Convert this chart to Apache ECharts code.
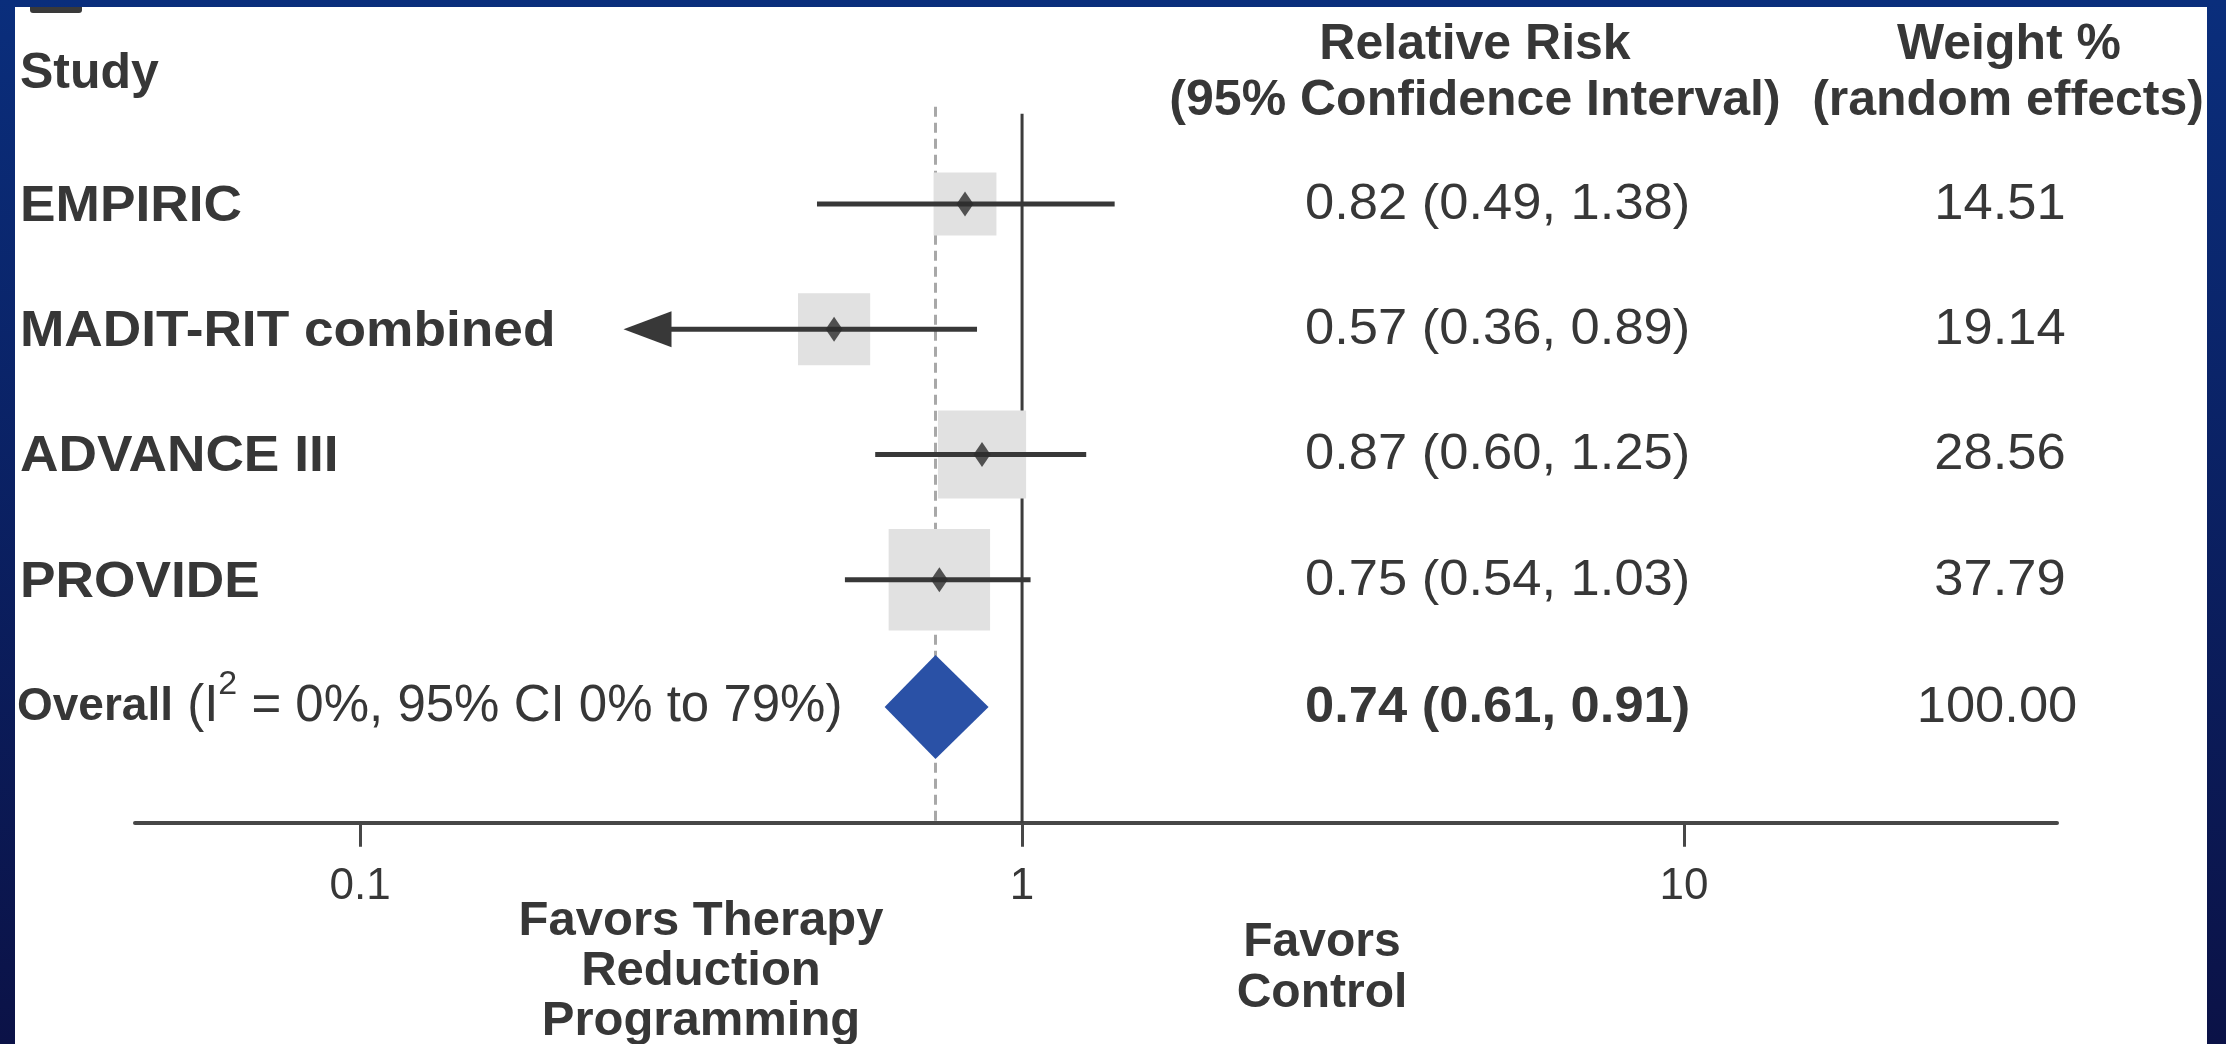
<!DOCTYPE html>
<html>
<head>
<meta charset="utf-8">
<script src="https://cdn.jsdelivr.net/npm/echarts@6/dist/echarts.min.js"></script>
<style>
html,body{margin:0;padding:0;background:#0a2d78;overflow:hidden;}
#c{width:2226px;height:1044px;}
</style>
</head>
<body>
<div id="c"></div>
<script>
// ---- data ----
const studies = ['EMPIRIC', 'MADIT-RIT combined', 'ADVANCE III', 'PROVIDE'];
const rr = [0.82, 0.57, 0.87, 0.75];          // printed relative risk
const ciLow = [0.49, 0.36, 0.60, 0.54];       // printed lower 95% CI
const ciHigh = [1.38, 0.89, 1.25, 1.03];      // printed upper 95% CI
const weights = [14.51, 19.14, 28.56, 37.79]; // weight % (random effects)
// marks as drawn in the figure (the MADIT-RIT marks are drawn at different values than printed)
const plotEst = [0.82, 0.52, 0.87, 0.75];
const plotLow = [0.49, 0.25, 0.60, 0.54];
const plotHigh = [1.38, 0.855, 1.25, 1.03];
const arrowLow = [false, true, false, false];
const overallRR = 0.74;
const overallLow = 0.61;
const overallHigh = 0.91;
const overallWeight = 100.00;
const overallPlotLow = 0.62;
const overallPlotHigh = 0.89;
const overallLabel = ['Overall', '(I', '2', ' = 0%, 95% CI 0% to 79%)'];
const xTicks = [0.1, 1, 10];

// ---- styles ----
const FF = '"Liberation Sans", Arial, Helvetica, sans-serif';
const TXT = '#373737';
const INK = '#383838';

const chart = echarts.init(document.getElementById('c'), null, {renderer: 'canvas', width: 2226, height: 1044});
const overallRow = studies.length;
const rowIdx = studies.map((s, i) => i);
const fmt = v => v.toFixed(2);

const option = {
  animation: false,
  backgroundColor: {
    type: 'linear', x: 0, y: 0, x2: 0, y2: 1,
    colorStops: [{offset: 0, color: '#0a2e7c'}, {offset: 1, color: '#0b1247'}]
  },
  grid: {left: 135, right: 169, top: 78.75, bottom: 221.3},
  xAxis: {
    type: 'log', logBase: 10, min: 0.0457, max: 36.6,
    axisLine: {show: true, onZero: false, lineStyle: {color: '#474747', width: 4}},
    axisTick: {show: true, customValues: xTicks, length: 24, lineStyle: {color: '#474747', width: 3}},
    axisLabel: {customValues: xTicks, formatter: v => String(v), fontSize: 44, color: TXT, fontFamily: FF, margin: 42},
    splitLine: {show: false},
    minorTick: {show: false}
  },
  yAxis: {type: 'value', inverse: true, min: -1, max: 4.94, show: false},
  graphic: [
    {type: 'rect', z: -100, shape: {x: 15, y: 7, width: 2192, height: 1040}, style: {fill: '#ffffff'}},
    {type: 'rect', z: 100, shape: {x: 30, y: 7, width: 52, height: 6, r: [0, 0, 3, 3]}, style: {fill: '#3a3a3a'}},
    {type: 'text', z: 100, x: 20, y: 74, style: {text: 'Study', fontSize: 50, fontWeight: 'bold', fontFamily: FF, fill: TXT, textAlign: 'left', textVerticalAlign: 'middle'}},
    {type: 'text', z: 100, x: 1475, y: 45, style: {text: 'Relative Risk', fontSize: 50, fontWeight: 'bold', fontFamily: FF, fill: TXT, textAlign: 'center', textVerticalAlign: 'middle'}},
    {type: 'text', z: 100, x: 1475, y: 101, style: {text: '(95% Confidence Interval)', fontSize: 50, fontWeight: 'bold', fontFamily: FF, fill: TXT, textAlign: 'center', textVerticalAlign: 'middle'}},
    {type: 'text', z: 100, x: 2009, y: 45, style: {text: 'Weight %', fontSize: 50, fontWeight: 'bold', fontFamily: FF, fill: TXT, textAlign: 'center', textVerticalAlign: 'middle'}},
    {type: 'text', z: 100, x: 2008, y: 101, style: {text: '(random effects)', fontSize: 50, fontWeight: 'bold', fontFamily: FF, fill: TXT, textAlign: 'center', textVerticalAlign: 'middle'}},
    {type: 'text', z: 100, x: 701, y: 971, style: {text: 'Favors Therapy\nReduction\nProgramming', fontSize: 49, fontWeight: 'bold', fontFamily: FF, fill: TXT, textAlign: 'center', textVerticalAlign: 'middle', lineHeight: 50}},
    {type: 'text', z: 100, x: 1322, y: 968, style: {text: 'Favors\nControl', fontSize: 48, fontWeight: 'bold', fontFamily: FF, fill: TXT, textAlign: 'center', textVerticalAlign: 'middle', lineHeight: 51}}
  ],
  series: [
    // reference lines: null effect (1) and overall estimate (dashed)
    {
      type: 'custom', z: 1, silent: true,
      data: [[1, 0], [overallRR, 1]],
      renderItem: function (params, api) {
        const x = api.value(0);
        const bottom = api.coord([x, 4.94]);
        const top = api.coord([x, -1]);
        const dashed = api.value(1) === 1;
        return {
          type: 'line',
          shape: {x1: bottom[0], y1: top[1] + (dashed ? 28 : 35), x2: bottom[0], y2: bottom[1]},
          style: dashed ? {stroke: '#a8a8a8', lineWidth: 3, lineDash: [10, 6]} : {stroke: '#3c3c3c', lineWidth: 3}
        };
      }
    },
    // weight squares
    {
      type: 'scatter', z: 2, silent: true,
      data: rowIdx.map(i => [plotEst[i], i, weights[i]]),
      symbol: 'rect',
      symbolSize: v => 16.5 * Math.sqrt(v[2]),
      itemStyle: {color: '#e1e1e1', opacity: 1}
    },
    // confidence interval lines
    {
      type: 'custom', z: 3, silent: true,
      data: rowIdx.map(i => [plotLow[i], i, plotHigh[i], arrowLow[i] ? 1 : 0]),
      renderItem: function (params, api) {
        const row = api.value(1);
        const p1 = api.coord([api.value(0), row]);
        const p2 = api.coord([api.value(2), row]);
        const arrow = api.value(3) === 1;
        const children = [];
        const startX = arrow ? p1[0] + 44 : p1[0];
        children.push({type: 'line', shape: {x1: startX, y1: p1[1], x2: p2[0], y2: p2[1]}, style: {stroke: INK, lineWidth: 5}});
        if (arrow) {
          children.push({type: 'polygon', shape: {points: [[p1[0], p1[1]], [p1[0] + 48, p1[1] - 18], [p1[0] + 48, p1[1] + 18]]}, style: {fill: INK}});
        }
        return {type: 'group', children: children};
      }
    },
    // point estimates
    {
      type: 'scatter', z: 4, silent: true,
      data: rowIdx.map(i => [plotEst[i], i]),
      symbol: 'diamond', symbolSize: [17, 25],
      itemStyle: {color: '#2c2c2c'}
    },
    // overall diamond
    {
      type: 'custom', z: 3, silent: true,
      data: [[overallPlotLow, overallRow, overallPlotHigh, overallRR]],
      renderItem: function (params, api) {
        const row = api.value(1);
        const l = api.coord([api.value(0), row]);
        const r = api.coord([api.value(2), row]);
        const m = api.coord([api.value(3), row]);
        const h = 52;
        return {type: 'polygon', shape: {points: [[l[0], m[1] + 2], [m[0], m[1] + 2 - h], [r[0], m[1] + 2], [m[0], m[1] + 2 + h]]}, style: {fill: '#2a51a6'}};
      }
    },
    // table text
    {
      type: 'custom', z: 10, silent: true,
      data: rowIdx.map(i => [1, i]).concat([[1, overallRow]]),
      renderItem: function (params, api) {
        const row = api.value(1);
        const y = api.coord([1, row])[1];
        const isOverall = row === overallRow;
        const children = [];
        if (isOverall) {
          children.push({type: 'text', x: 17, y: y + 2, style: {
            x: 0, y: 0,
            text: '{b|' + overallLabel[0] + '}{r| ' + overallLabel[1] + '}{s|' + overallLabel[2] + '}{r|' + overallLabel[3] + '}',
            textAlign: 'left', textVerticalAlign: 'middle',
            rich: {
              b: {fontSize: 46, fontWeight: 'bold', fontFamily: FF, fill: TXT},
              r: {fontSize: 51, fontWeight: 'normal', fontFamily: FF, fill: TXT},
              s: {fontSize: 34, fontWeight: 'normal', fontFamily: FF, fill: TXT, padding: [0, 0, 44, 0]}
            }
          }});
          children.push({type: 'text', x: 1305, y: y + 3, scaleX: 1.05, style: {x: 0, y: 0, text: fmt(overallRR) + ' (' + fmt(overallLow) + ', ' + fmt(overallHigh) + ')', fontSize: 50, fontWeight: 'bold', fontFamily: FF, fill: TXT, textAlign: 'left', textVerticalAlign: 'middle'}});
          children.push({type: 'text', x: 1997, y: y + 3, scaleX: 1.05, style: {x: 0, y: 0, text: fmt(overallWeight), fontSize: 50, fontFamily: FF, fill: TXT, textAlign: 'center', textVerticalAlign: 'middle'}});
        } else {
          children.push({type: 'text', x: 20, y: y + 3, scaleX: 1.065, style: {x: 0, y: 0, text: studies[row], fontSize: 50, fontWeight: 'bold', fontFamily: FF, fill: TXT, textAlign: 'left', textVerticalAlign: 'middle'}});
          children.push({type: 'text', x: 1305, y: y + 1, scaleX: 1.05, style: {x: 0, y: 0, text: fmt(rr[row]) + ' (' + fmt(ciLow[row]) + ', ' + fmt(ciHigh[row]) + ')', fontSize: 50, fontFamily: FF, fill: TXT, textAlign: 'left', textVerticalAlign: 'middle'}});
          children.push({type: 'text', x: 2000, y: y + 1, scaleX: 1.05, style: {x: 0, y: 0, text: fmt(weights[row]), fontSize: 50, fontFamily: FF, fill: TXT, textAlign: 'center', textVerticalAlign: 'middle'}});
        }
        return {type: 'group', children: children};
      }
    }
  ]
};
chart.setOption(option);
</script>
</body>
</html>
